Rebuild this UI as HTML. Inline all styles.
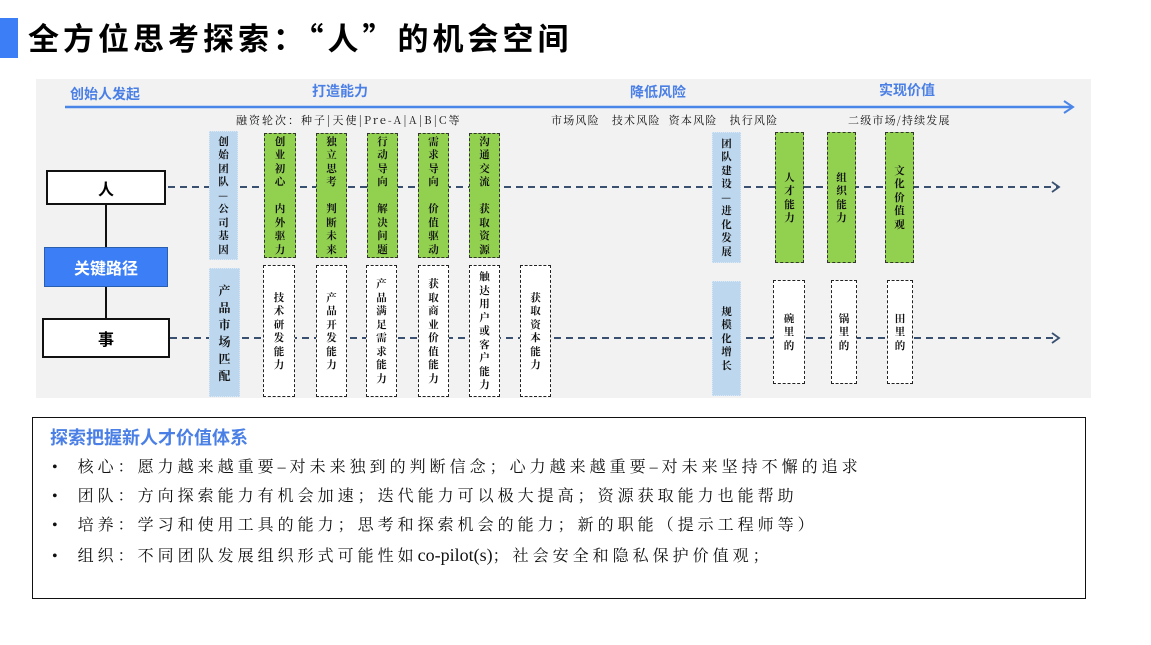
<!DOCTYPE html>
<html><head><meta charset="utf-8"><style>
body{margin:0;width:1151px;height:645px;background:#fff;position:relative;overflow:hidden;font-family:"Liberation Serif","Noto Serif CJK SC","Noto Sans CJK SC",serif;}
.a{position:absolute}
.col{position:absolute;display:flex;flex-direction:column;align-items:center;justify-content:center;font-size:10.5px;line-height:13.5px;font-weight:bold;color:#111;box-sizing:border-box;font-family:"Noto Serif CJK SC","Noto Sans CJK SC",serif;}
.g{background:#92d050;border:1px dashed #333;}
.w{background:#fff;border:1px dashed #222;}
.b{background:#bdd7ee;border:1px dotted #dbe8f5;}
.lab{position:absolute;font-size:14px;font-weight:bold;color:#4a7fe6;font-family:"Noto Sans CJK SC",sans-serif;white-space:nowrap}
.sm{position:absolute;font-size:11px;letter-spacing:1.2px;color:#111;white-space:nowrap;font-family:"Noto Serif CJK SC",serif}
.box{position:absolute;border:2.5px solid #111;background:#fff;box-sizing:border-box;display:flex;align-items:center;justify-content:center;font-size:16px;font-weight:bold;font-family:"Noto Sans CJK SC",sans-serif}
.li{position:absolute;left:52px;font-size:16px;letter-spacing:4px;white-space:nowrap;color:#111;font-family:"Liberation Serif","Noto Serif CJK SC",serif}
</style></head><body>
<div class="a" style="left:0;top:18px;width:18px;height:40px;background:#3b7ef5"></div>
<div class="a" style="left:28px;top:14px;font-size:31px;font-weight:bold;letter-spacing:4px;font-family:'Noto Sans CJK SC',sans-serif;white-space:nowrap">全方位思考探索：“人”的机会空间</div>

<div class="a" style="left:36px;top:79px;width:1055px;height:319px;background:#f2f2f2"></div>
<svg class="a" style="left:0;top:0" width="1151" height="645">
<line x1="65" y1="107" x2="1072" y2="107" stroke="#4a86e8" stroke-width="2.5"/>
<polyline points="1064,101 1073,107 1064,113" fill="none" stroke="#4a86e8" stroke-width="2"/>
<line x1="168" y1="187" x2="1058" y2="187" stroke="#3a5070" stroke-width="2" stroke-dasharray="7,5"/>
<polyline points="1052,182 1059,187 1052,192" fill="none" stroke="#3a5070" stroke-width="1.8"/>
<line x1="170" y1="338" x2="1058" y2="338" stroke="#3a5070" stroke-width="2" stroke-dasharray="7,5"/>
<polyline points="1052,333 1059,338 1052,343" fill="none" stroke="#3a5070" stroke-width="1.8"/>
<line x1="106" y1="205" x2="106" y2="318" stroke="#111" stroke-width="2"/>
</svg>
<div class="lab" style="left:70px;top:84px">创始人发起</div>
<div class="lab" style="left:312px;top:81px">打造能力</div>
<div class="lab" style="left:630px;top:82px">降低风险</div>
<div class="lab" style="left:879px;top:80px">实现价值</div>
<div class="sm" style="left:236px;top:112px;letter-spacing:2px">融资轮次：种子|天使|Pre-A|A|B|C等</div>
<div class="sm" style="left:551px;top:112px">市场风险&nbsp;&nbsp;&nbsp;技术风险&nbsp;&nbsp;资本风险&nbsp;&nbsp;&nbsp;执行风险</div>
<div class="sm" style="left:848px;top:112px">二级市场/持续发展</div>

<div class="box" style="left:46px;top:170px;width:120px;height:35px">人</div>
<div class="box" style="left:44px;top:247px;width:124px;height:40px;background:#3b7ef5;border:1.5px solid #2a5fb0;color:#fff">关键路径</div>
<div class="box" style="left:42px;top:318px;width:128px;height:40px">事</div>

<div class="col b" style="left:209px;top:131px;width:29px;height:129px">创<br>始<br>团<br>队<br>—<br>公<br>司<br>基<br>因</div>
<div class="col b" style="left:209px;top:268px;width:31px;height:129px;font-size:12px;line-height:17px">产<br>品<br>市<br>场<br>匹<br>配</div>

<div class="col g" style="left:264px;top:133px;width:32px;height:125px">创<br>业<br>初<br>心<br><br>内<br>外<br>驱<br>力</div>
<div class="col g" style="left:316px;top:133px;width:31px;height:125px">独<br>立<br>思<br>考<br><br>判<br>断<br>未<br>来</div>
<div class="col g" style="left:367px;top:133px;width:31px;height:125px">行<br>动<br>导<br>向<br><br>解<br>决<br>问<br>题</div>
<div class="col g" style="left:418px;top:133px;width:31px;height:125px">需<br>求<br>导<br>向<br><br>价<br>值<br>驱<br>动</div>
<div class="col g" style="left:469px;top:133px;width:31px;height:125px">沟<br>通<br>交<br>流<br><br>获<br>取<br>资<br>源</div>

<div class="col w" style="left:263px;top:265px;width:32px;height:132px">技<br>术<br>研<br>发<br>能<br>力</div>
<div class="col w" style="left:316px;top:265px;width:31px;height:132px">产<br>品<br>开<br>发<br>能<br>力</div>
<div class="col w" style="left:366px;top:265px;width:31px;height:132px">产<br>品<br>满<br>足<br>需<br>求<br>能<br>力</div>
<div class="col w" style="left:418px;top:265px;width:31px;height:132px">获<br>取<br>商<br>业<br>价<br>值<br>能<br>力</div>
<div class="col w" style="left:469px;top:265px;width:31px;height:132px">触<br>达<br>用<br>户<br>或<br>客<br>户<br>能<br>力</div>
<div class="col w" style="left:520px;top:265px;width:31px;height:132px">获<br>取<br>资<br>本<br>能<br>力</div>

<div class="col b" style="left:712px;top:132px;width:29px;height:131px">团<br>队<br>建<br>设<br>—<br>进<br>化<br>发<br>展</div>
<div class="col b" style="left:712px;top:281px;width:29px;height:115px">规<br>模<br>化<br>增<br>长</div>

<div class="col g" style="left:775px;top:132px;width:29px;height:131px">人<br>才<br>能<br>力</div>
<div class="col g" style="left:827px;top:132px;width:29px;height:131px">组<br>织<br>能<br>力</div>
<div class="col g" style="left:885px;top:132px;width:29px;height:131px">文<br>化<br>价<br>值<br>观</div>

<div class="col w" style="left:773px;top:280px;width:32px;height:104px">碗<br>里<br>的</div>
<div class="col w" style="left:831px;top:280px;width:26px;height:104px">锅<br>里<br>的</div>
<div class="col w" style="left:887px;top:280px;width:26px;height:104px">田<br>里<br>的</div>

<div class="a" style="left:32px;top:417px;width:1054px;height:182px;border:1.5px solid #111;box-sizing:border-box;background:#fff"></div>
<div class="a" style="left:50px;top:424px;font-size:18px;font-weight:bold;color:#4a7fe6;font-family:'Noto Sans CJK SC',sans-serif;white-space:nowrap">探索把握新人才价值体系</div>
<div class="li" style="top:454px">•&nbsp;&nbsp;核心：愿力越来越重要–对未来独到的判断信念；心力越来越重要–对未来坚持不懈的追求</div>
<div class="li" style="top:483px">•&nbsp;&nbsp;团队：方向探索能力有机会加速；迭代能力可以极大提高；资源获取能力也能帮助</div>
<div class="li" style="top:512px">•&nbsp;&nbsp;培养：学习和使用工具的能力；思考和探索机会的能力；新的职能（提示工程师等）</div>
<div class="li" style="top:543px">•&nbsp;&nbsp;组织：不同团队发展组织形式可能性如<span style="letter-spacing:0;font-size:18px">co-pilot(s)</span>；社会安全和隐私保护价值观；</div>
</body></html>
